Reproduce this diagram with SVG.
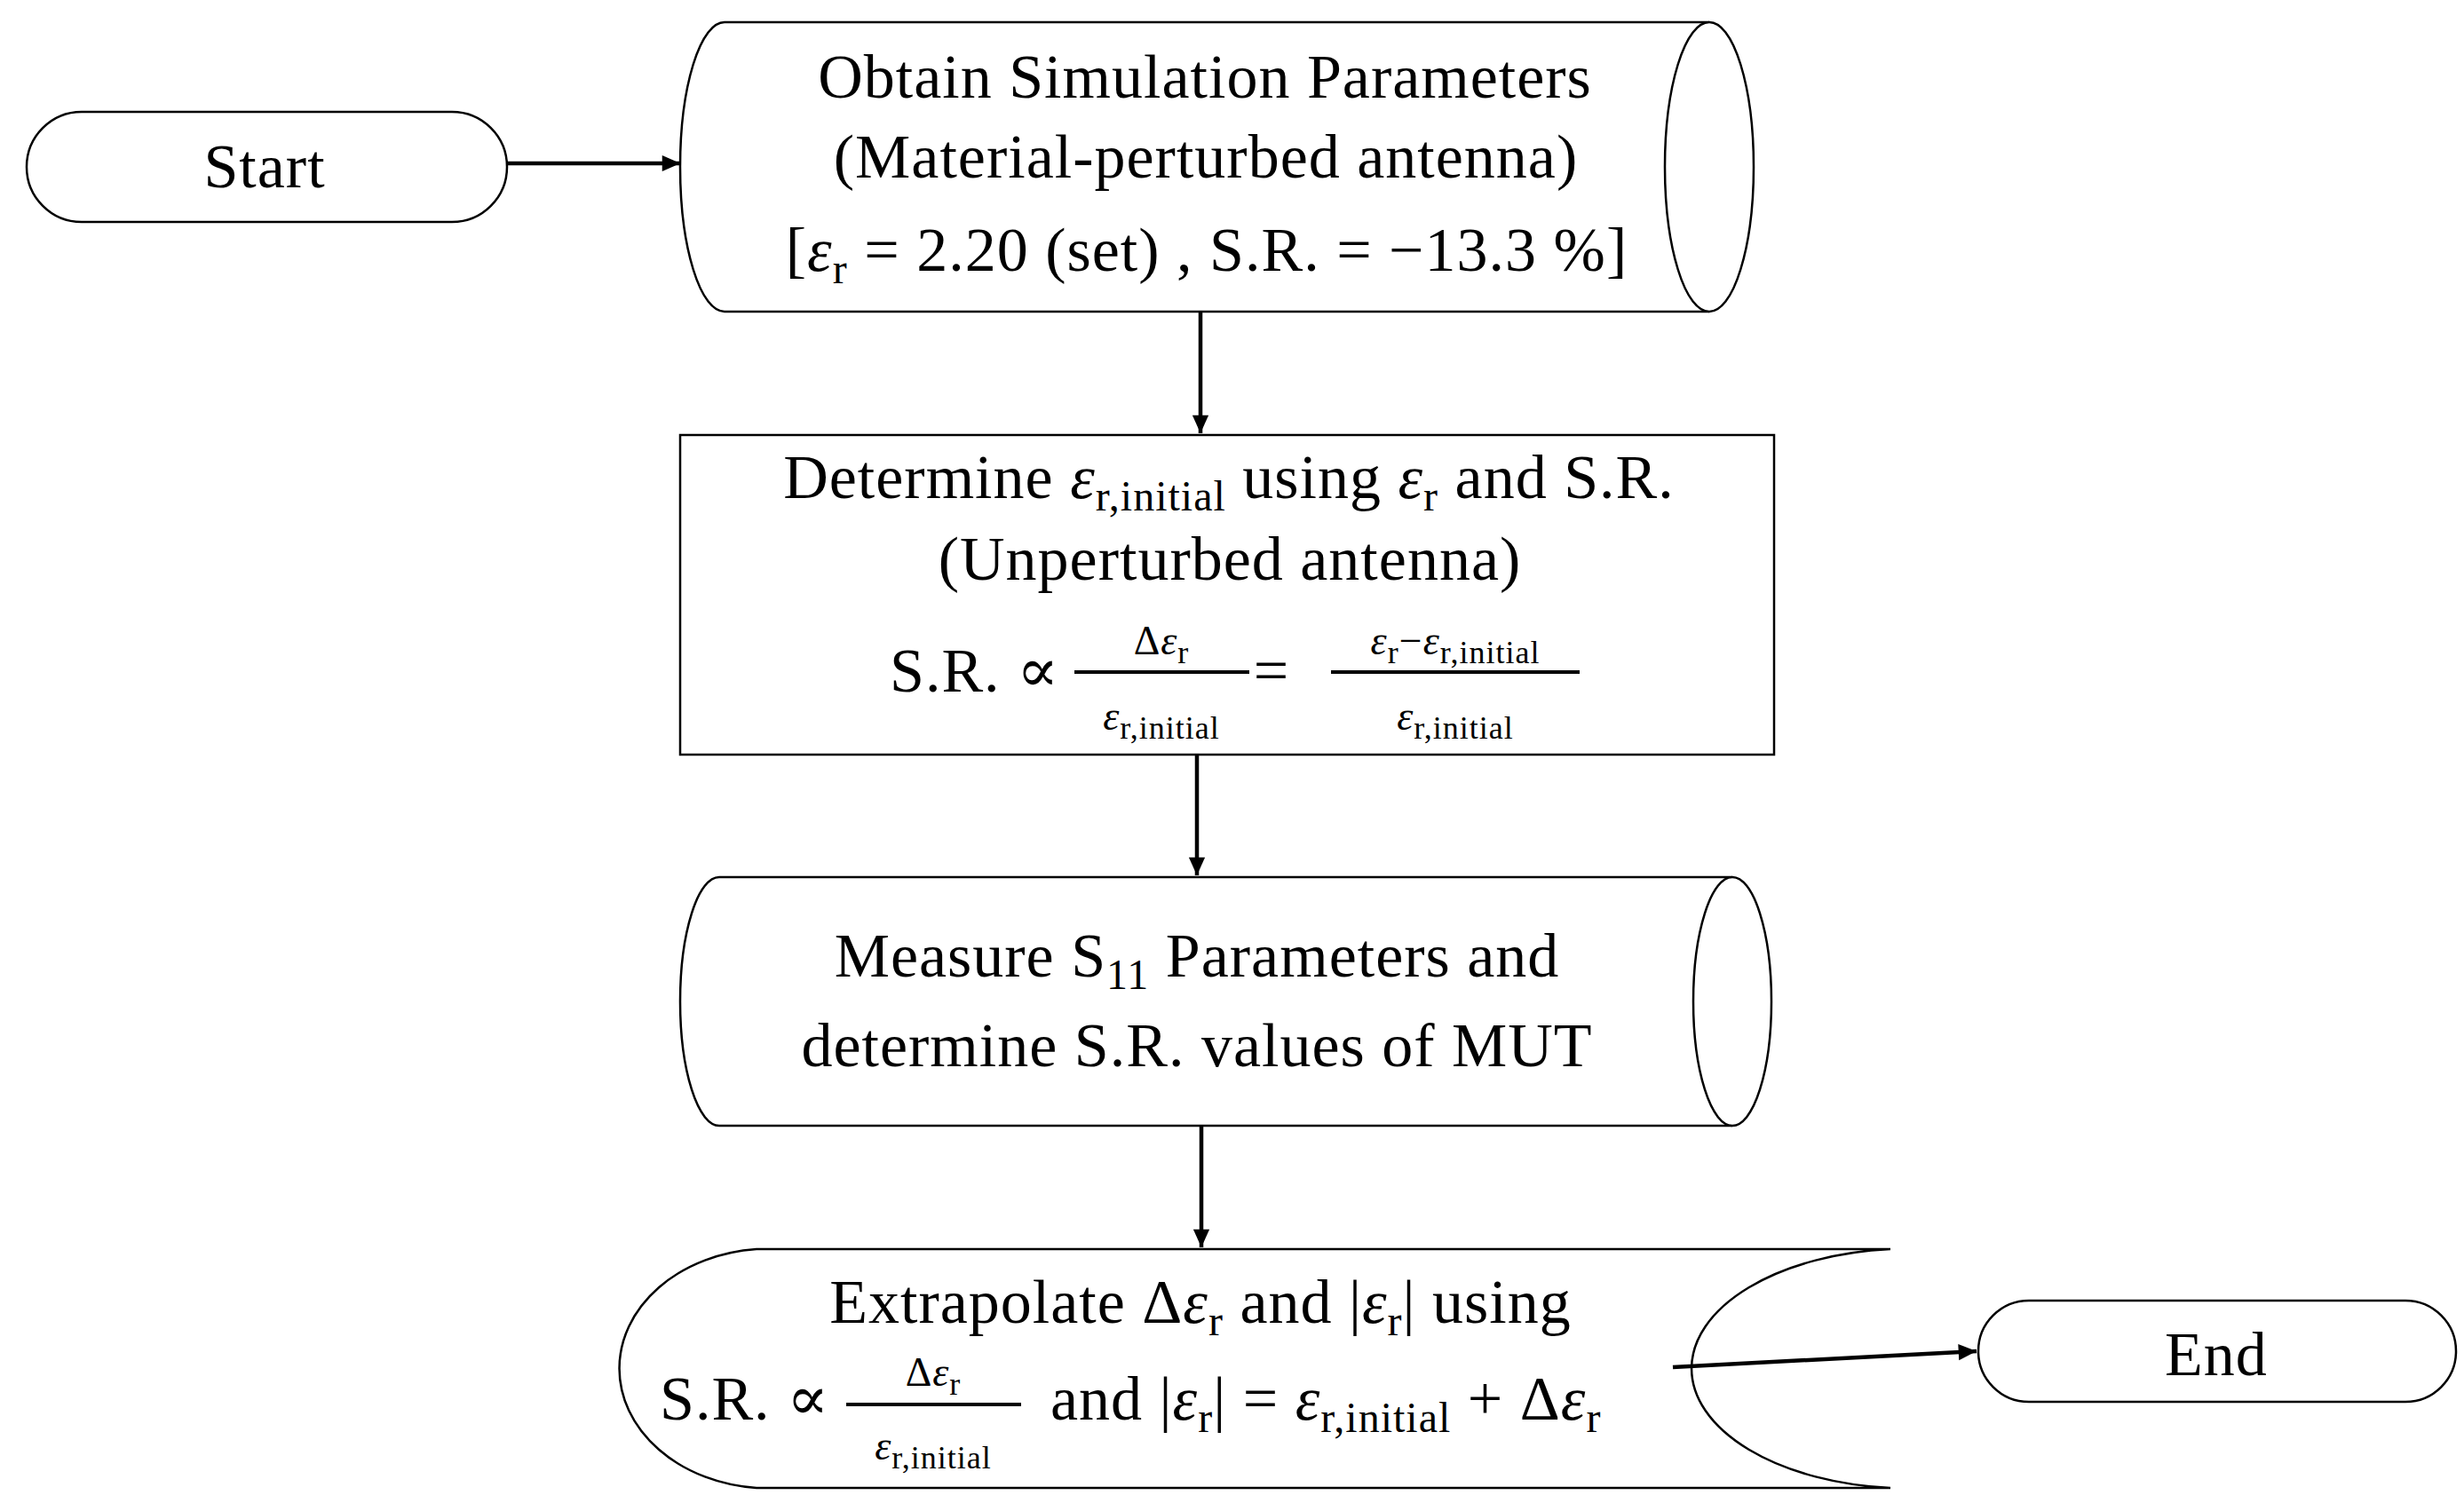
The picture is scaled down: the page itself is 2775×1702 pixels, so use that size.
<svg xmlns="http://www.w3.org/2000/svg" width="2775" height="1702" viewBox="0 0 2775 1702">
<style>
.s{fill:#fff;stroke:#000;stroke-width:2.5}
.t{font-family:"Liberation Serif","DejaVu Serif",serif;font-size:70px;fill:#000;text-anchor:middle;letter-spacing:1px}
.l{text-anchor:start}
.f{font-size:48px}
.g{font-size:46px}
.i{font-style:italic}
.c{stroke:#000;stroke-width:4.5;fill:none}
.b{stroke:#000;stroke-width:4}
</style>
<defs>
<marker id="a" viewBox="0 0 10 10" refX="10" refY="5" markerWidth="5" markerHeight="4.5" orient="auto" markerUnits="strokeWidth"><path d="M0,0.5 L10,5 L0,9.5 Z" fill="#000"/></marker>
</defs>
<g id="start">
<rect class="s" x="30" y="126" width="541" height="124" rx="62"/>
<text class="t" x="298" y="211">Start</text>
</g>
<g id="obtain">
<path class="s" d="M816,25 L1925,25 A50 163 0 0 1 1925,351 L816,351 A50 163 0 0 1 816,25 Z"/>
<path class="s" d="M1925,25 A50 163 0 0 0 1925,351" fill="none"/>
<text class="t" x="1357" y="110">Obtain Simulation Parameters</text>
<text class="t" x="1358" y="200">(Material-perturbed antenna)</text>
<text class="t" x="1359" y="305">[<tspan class="i">ε</tspan><tspan class="f" dy="14">r</tspan><tspan dy="-14"> = 2.20 (set) , S.R. = −13.3 %]</tspan></text>
</g>
<g id="determine">
<rect class="s" x="766" y="490" width="1232" height="360"/>
<text class="t" x="1384" y="561">Determine <tspan class="i">ε</tspan><tspan class="f" dy="14">r,initial</tspan><tspan dy="-14"> using </tspan><tspan class="i">ε</tspan><tspan class="f" dy="14">r</tspan><tspan dy="-14"> and S.R.</tspan></text>
<text class="t" x="1385" y="653">(Unperturbed antenna)</text>
<text class="t l" x="1002" y="779">S.R. ∝</text>
<line class="b" x1="1210" y1="757" x2="1407" y2="757"/>
<text class="t g" x="1308" y="737">Δ<tspan class="i">ε</tspan><tspan font-size="36" dy="10">r</tspan></text>
<text class="t g" x="1308" y="822"><tspan class="i">ε</tspan><tspan font-size="36" dy="10">r,initial</tspan></text>
<text class="t" x="1432" y="779">=</text>
<line class="b" x1="1499" y1="757" x2="1779" y2="757"/>
<text class="t g" x="1639" y="737"><tspan class="i">ε</tspan><tspan font-size="36" dy="10">r</tspan><tspan dy="-10">−</tspan><tspan class="i">ε</tspan><tspan font-size="36" dy="10">r,initial</tspan></text>
<text class="t g" x="1639" y="822"><tspan class="i">ε</tspan><tspan font-size="36" dy="10">r,initial</tspan></text>
</g>
<g id="measure">
<path class="s" d="M810,988 L1951,988 A44 140 0 0 1 1951,1268 L810,1268 A44 140 0 0 1 810,988 Z"/>
<path class="s" d="M1951,988 A44 140 0 0 0 1951,1268" fill="none"/>
<text class="t" x="1348" y="1100">Measure S<tspan class="f" dy="14">11</tspan><tspan dy="-14"> Parameters and</tspan></text>
<text class="t" x="1348" y="1201">determine S.R. values of MUT</text>
</g>
<g id="extrapolate">
<path class="s" d="M852,1407 L2129,1407 A245 135 0 0 0 2129,1676 L852,1676 A169 135 0 0 1 852,1407 Z"/>
<text class="t" x="1352" y="1490">Extrapolate Δ<tspan class="i">ε</tspan><tspan class="f" dy="14">r</tspan><tspan dy="-14"> and |</tspan><tspan class="i">ε</tspan><tspan class="f" dy="14">r</tspan><tspan dy="-14">| using</tspan></text>
<text class="t l" x="743" y="1599">S.R. ∝</text>
<line class="b" x1="953" y1="1582" x2="1150" y2="1582"/>
<text class="t g" x="1051" y="1561">Δ<tspan class="i">ε</tspan><tspan font-size="36" dy="10">r</tspan></text>
<text class="t g" x="1051" y="1644"><tspan class="i">ε</tspan><tspan font-size="36" dy="10">r,initial</tspan></text>
<text class="t l" x="1183" y="1599">and |<tspan class="i">ε</tspan><tspan class="f" dy="14">r</tspan><tspan dy="-14">| = </tspan><tspan class="i">ε</tspan><tspan class="f" dy="14">r,initial</tspan><tspan dy="-14"> + Δ</tspan><tspan class="i">ε</tspan><tspan class="f" dy="14">r</tspan></text>
</g>
<g id="end">
<rect class="s" x="2228" y="1465" width="538" height="114" rx="57"/>
<text class="t" x="2496" y="1549">End</text>
</g>
<g id="connectors">
<line class="c" x1="571" y1="184" x2="766" y2="184" marker-end="url(#a)"/>
<line class="c" x1="1352" y1="351" x2="1352" y2="488" marker-end="url(#a)"/>
<line class="c" x1="1348" y1="850" x2="1348" y2="986" marker-end="url(#a)"/>
<line class="c" x1="1353" y1="1268" x2="1353" y2="1405" marker-end="url(#a)"/>
<line class="c" x1="1884" y1="1540" x2="2226" y2="1522" marker-end="url(#a)"/>
</g>
</svg>
